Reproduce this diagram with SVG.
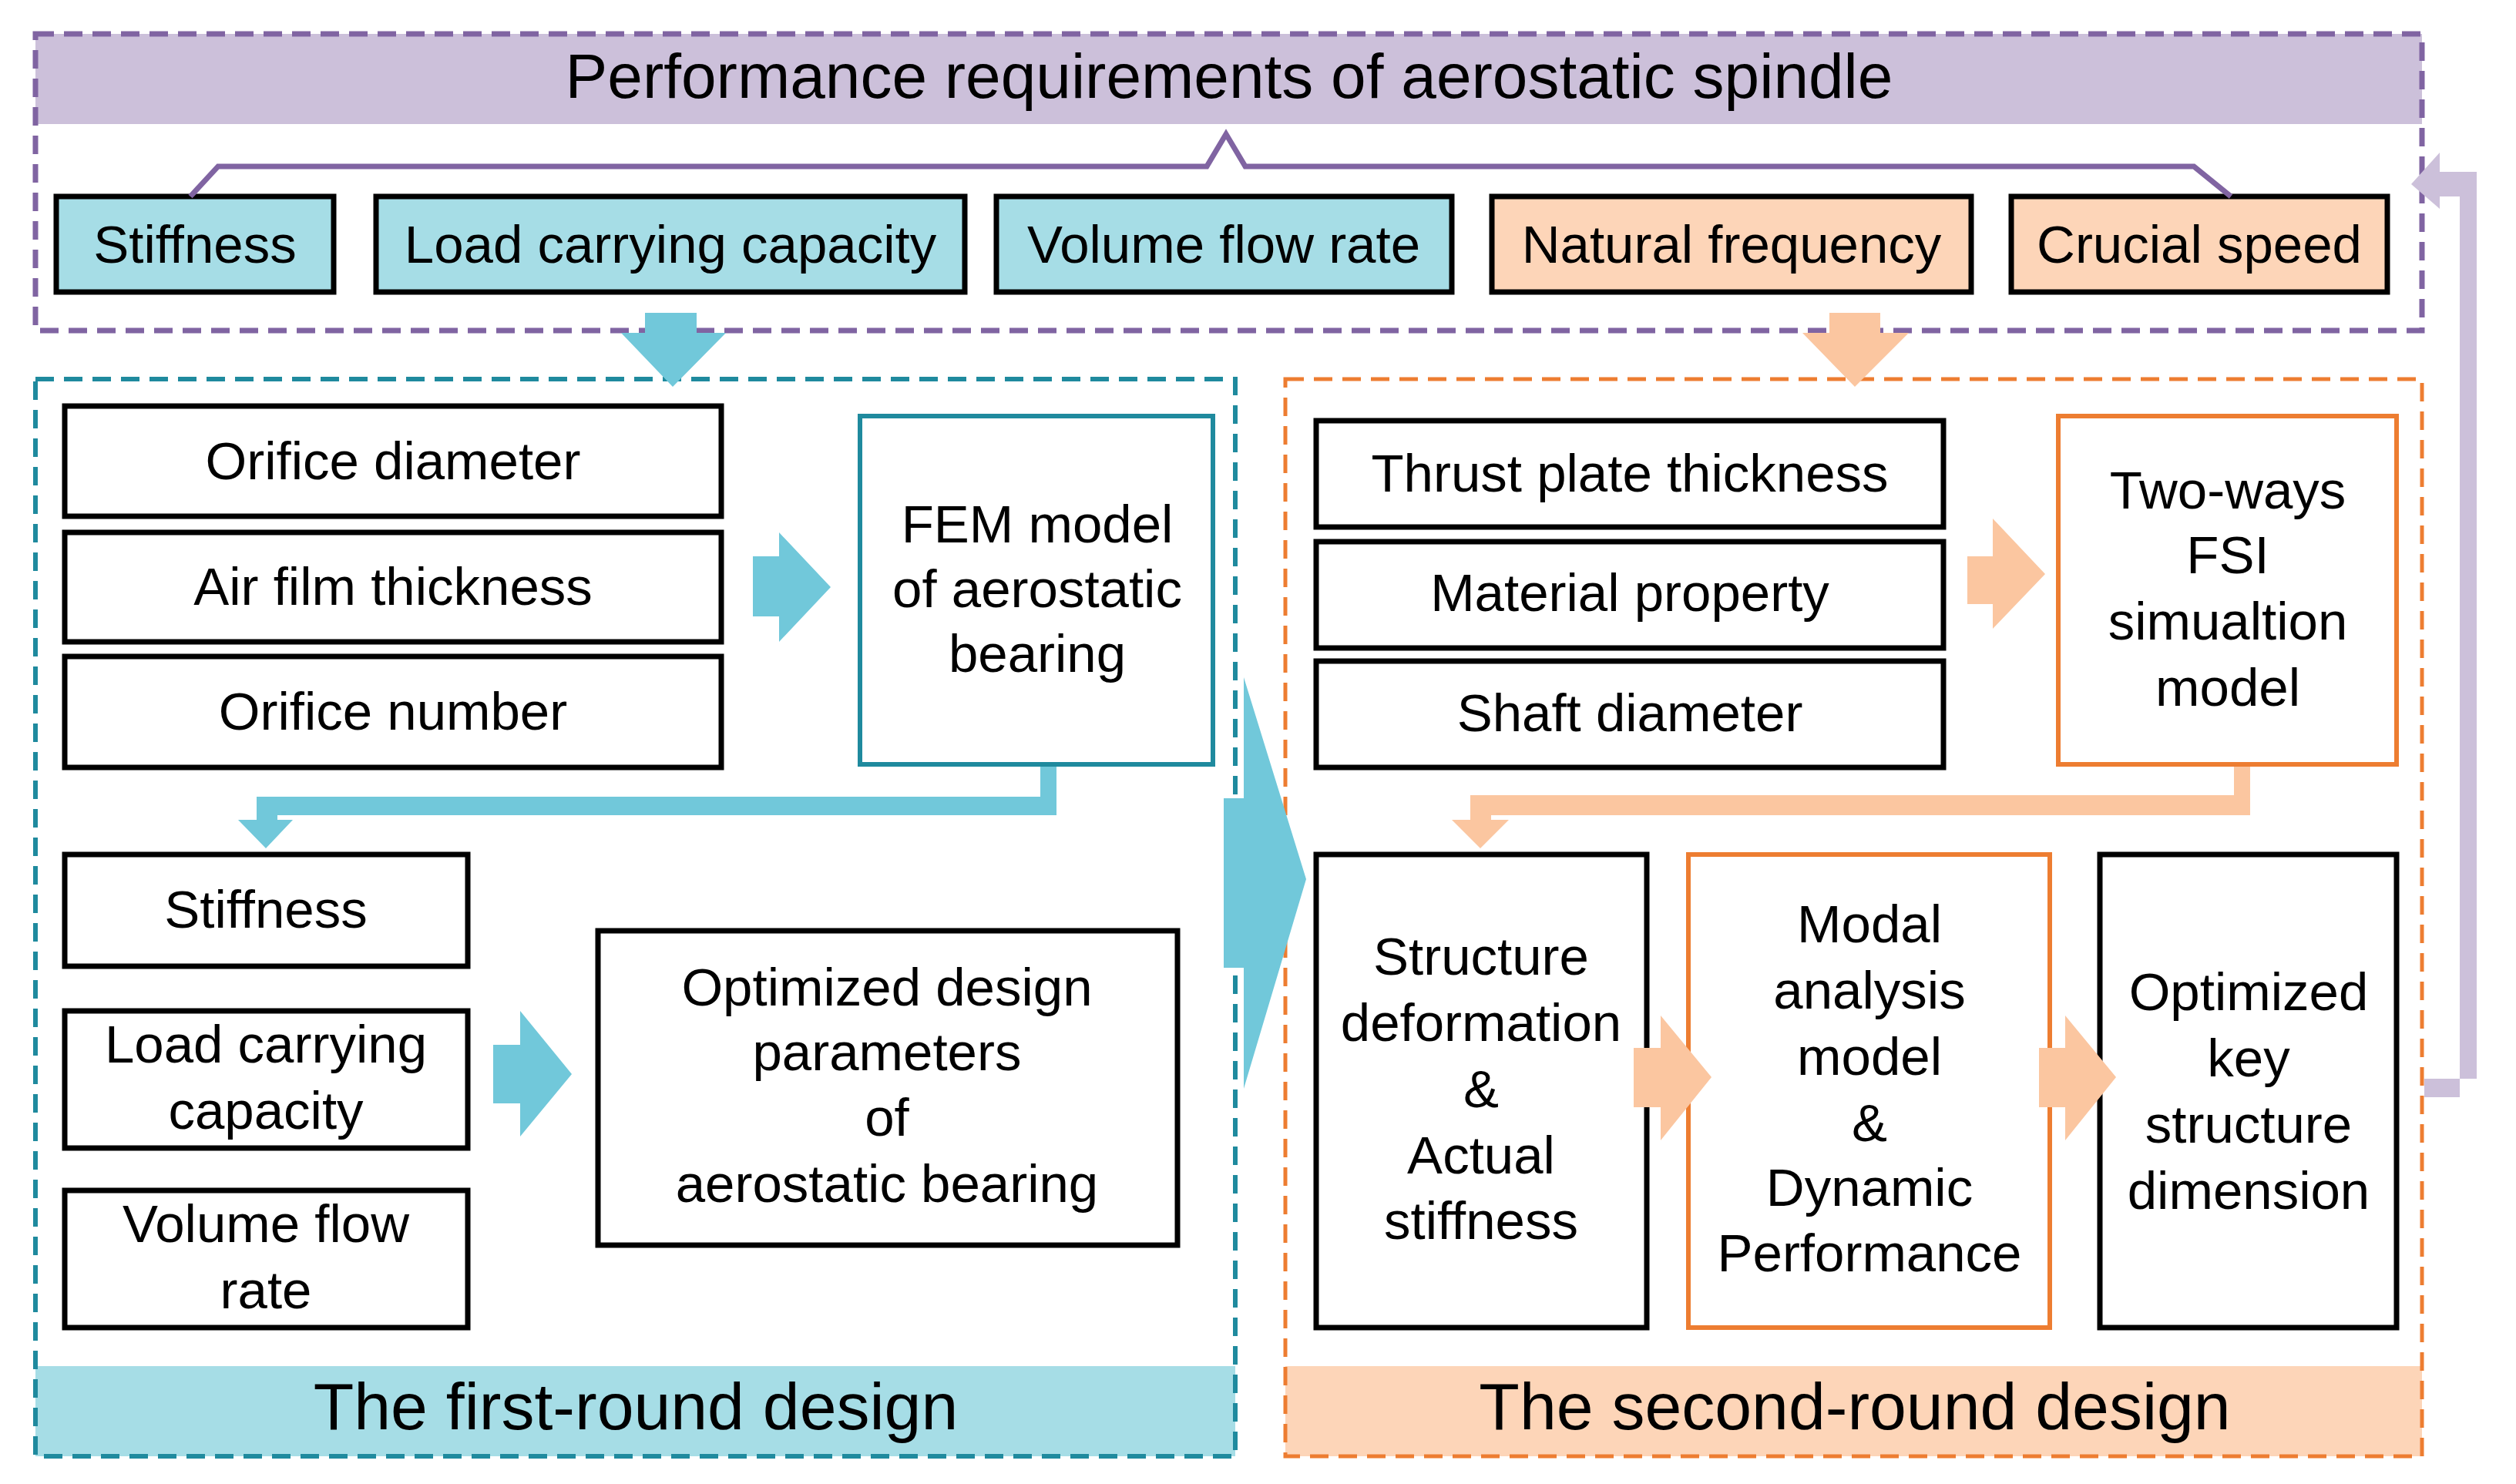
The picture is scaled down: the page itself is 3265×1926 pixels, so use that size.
<svg xmlns="http://www.w3.org/2000/svg" width="3265" height="1926" viewBox="0 0 3265 1926">
<style>
text{font-family:"Liberation Sans",Arial,sans-serif;fill:#000;text-anchor:middle}
.t{font-size:69px}
.box{fill:#fff;stroke:#000;stroke-width:7}
.tb{fill:#fff;stroke:#1f8a9e;stroke-width:6}
.ob{fill:#fff;stroke:#ed7d31;stroke-width:6}
.ba{fill:#71c8da}
.oa{fill:#fbc6a0}
</style>
<rect width="3265" height="1926" fill="#fff"/>
<g id="top">
<rect x="46" y="44" width="3097" height="117" fill="#ccc0da"/>
<rect x="46" y="44" width="3097" height="385" fill="none" stroke="#8064a2" stroke-width="7" stroke-dasharray="24 13"/>
<text x="1595" y="127" style="font-size:82px">Performance requirements of aerostatic spindle</text>
</g>
<g id="first-round">
<rect x="46" y="1773" width="1557" height="117" fill="#a6dde6"/>
<rect x="46" y="492" width="1557" height="1398" fill="none" stroke="#1f8a9e" stroke-width="6" stroke-dasharray="24 13"/>
<text x="825" y="1855" style="font-size:86px">The first-round design</text>
</g>
<g id="second-round">
<rect x="1668" y="1773" width="1475" height="117" fill="#fdd5b8"/>
<rect x="1668" y="492" width="1475" height="1398" fill="none" stroke="#ed7d31" stroke-width="5" stroke-dasharray="24 13"/>
<text x="2407" y="1855" style="font-size:86px">The second-round design</text>
</g>
<g id="n-stiffness"><rect x="73" y="255" width="360" height="124" fill="#a6dde6" stroke="#000" stroke-width="7"/><text class="t" x="253" y="341">Stiffness</text></g>
<g id="n-load"><rect x="488" y="255" width="764" height="124" fill="#a6dde6" stroke="#000" stroke-width="7"/><text class="t" x="870" y="341">Load carrying capacity</text></g>
<g id="n-volume"><rect x="1293" y="255" width="591" height="124" fill="#a6dde6" stroke="#000" stroke-width="7"/><text class="t" x="1588" y="341">Volume flow rate</text></g>
<g id="n-natural"><rect x="1936" y="255" width="622" height="124" fill="#fdd5b8" stroke="#000" stroke-width="7"/><text class="t" x="2247" y="341">Natural frequency</text></g>
<g id="n-crucial"><rect x="2610" y="255" width="488" height="124" fill="#fdd5b8" stroke="#000" stroke-width="7"/><text class="t" x="2854" y="341">Crucial speed</text></g>

<g id="n-orifice-d"><rect class="box" x="84" y="527" width="852" height="143"/><text class="t" x="510" y="622">Orifice diameter</text></g>
<g id="n-airfilm"><rect class="box" x="84" y="691" width="852" height="142"/><text class="t" x="510" y="785">Air film thickness</text></g>
<g id="n-orifice-n"><rect class="box" x="84" y="852" width="852" height="144"/><text class="t" x="510" y="947">Orifice number</text></g>
<g id="n-fem"><rect class="tb" x="1116" y="540" width="458" height="452"/><text class="t" x="1346" y="704">FEM model</text><text class="t" x="1346" y="788">of aerostatic</text><text class="t" x="1346" y="872">bearing</text></g>
<g id="n-stiff2"><rect class="box" x="84" y="1109" width="523" height="145"/><text class="t" x="345" y="1204">Stiffness</text></g>
<g id="n-load2"><rect class="box" x="84" y="1312" width="523" height="178"/><text class="t" x="345" y="1379">Load carrying</text><text class="t" x="345" y="1465">capacity</text></g>
<g id="n-vol2"><rect class="box" x="84" y="1545" width="523" height="178"/><text class="t" x="345" y="1612">Volume flow</text><text class="t" x="345" y="1698">rate</text></g>
<g id="n-opt1"><rect class="box" x="776" y="1208" width="752" height="408"/><text class="t" x="1151" y="1305">Optimized design</text><text class="t" x="1151" y="1389">parameters</text><text class="t" x="1151" y="1474">of</text><text class="t" x="1151" y="1560">aerostatic bearing</text></g>

<g id="n-thrust"><rect class="box" x="1708" y="546" width="814" height="138"/><text class="t" x="2115" y="638">Thrust plate thickness</text></g>
<g id="n-material"><rect class="box" x="1708" y="703" width="814" height="138"/><text class="t" x="2115" y="793">Material property</text></g>
<g id="n-shaft"><rect class="box" x="1708" y="858" width="814" height="138"/><text class="t" x="2115" y="949">Shaft diameter</text></g>
<g id="n-fsi"><rect class="ob" x="2671" y="540" width="439" height="452"/><text class="t" x="2891" y="660">Two-ways</text><text class="t" x="2891" y="744">FSI</text><text class="t" x="2891" y="830">simualtion</text><text class="t" x="2891" y="916">model</text></g>
<g id="n-structure"><rect class="box" x="1708" y="1109" width="429" height="614"/><text class="t" x="1922" y="1265">Structure</text><text class="t" x="1922" y="1351">deformation</text><text class="t" x="1922" y="1437">&amp;</text><text class="t" x="1922" y="1523">Actual</text><text class="t" x="1922" y="1608">stiffness</text></g>
<g id="n-modal"><rect class="ob" x="2191" y="1109" width="469" height="614"/><text class="t" x="2426" y="1223">Modal</text><text class="t" x="2426" y="1309">analysis</text><text class="t" x="2426" y="1395">model</text><text class="t" x="2426" y="1481">&amp;</text><text class="t" x="2426" y="1565">Dynamic</text><text class="t" x="2426" y="1650">Performance</text></g>
<g id="n-optkey"><rect class="box" x="2725" y="1109" width="385" height="614"/><text class="t" x="2918" y="1311">Optimized</text><text class="t" x="2918" y="1397">key</text><text class="t" x="2918" y="1483">structure</text><text class="t" x="2918" y="1569">dimension</text></g>
<g id="connectors">
<polyline points="247,255 283,216 1566,216 1591,174 1616,216 2847,216 2895,255" fill="none" stroke="#8064a2" stroke-width="7"/>
<polygon class="ba" points="837,406 904,406 904,432 942,432 873,502 806,432 837,432"/>
<polygon class="oa" points="2374,406 2440,406 2440,432 2477,432 2407,502 2339,432 2374,432"/>
<polygon class="ba" points="977,722 1011,722 1011,691 1078,762 1011,833 1011,800 977,800"/>
<polygon class="ba" points="1350,995 1371,995 1371,1058 360,1058 360,1064 380,1064 345,1101 309,1064 333,1064 333,1034 1350,1034"/>
<polygon class="ba" points="640,1356 675,1356 675,1312 742,1394 675,1475 675,1432 640,1432"/>
<polygon class="ba" points="1588,1036 1614,1036 1614,879 1695,1141 1614,1413 1614,1256 1588,1256"/>
<polygon class="oa" points="2553,722 2586,722 2586,673 2654,745 2586,816 2586,784 2553,784"/>
<polygon class="oa" points="2899,995 2920,995 2920,1058 1935,1058 1935,1064 1958,1064 1921,1101 1884,1064 1908,1064 1908,1032 2899,1032"/>
<polygon class="oa" points="2120,1360 2155,1360 2155,1318 2221,1398 2155,1480 2155,1437 2120,1437"/>
<polygon class="oa" points="2646,1360 2680,1360 2680,1318 2746,1398 2680,1480 2680,1437 2646,1437"/>
<polygon fill="#ccc0da" points="3146,1400 3214,1400 3214,223 3166,223 3166,198 3129,239 3166,271 3166,255 3192,255 3192,1424 3146,1424"/>
</g>
</svg>
